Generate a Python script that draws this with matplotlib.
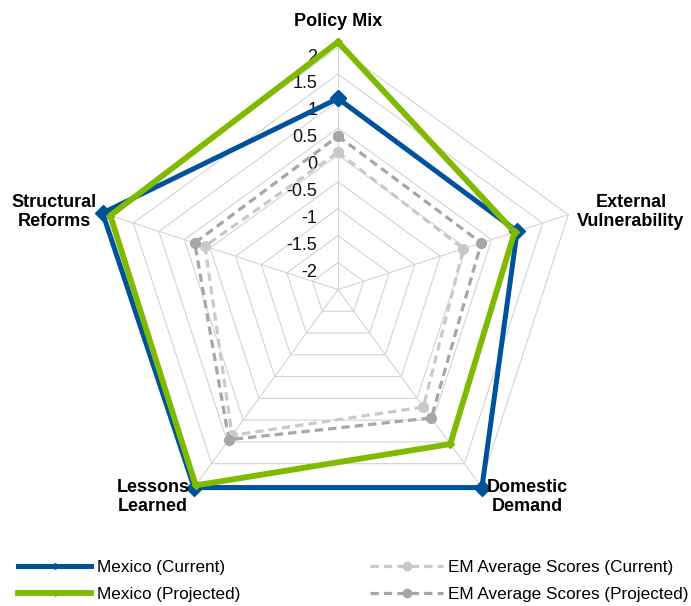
import matplotlib
matplotlib.use("Agg")
import matplotlib.pyplot as plt
from matplotlib.lines import Line2D
import numpy as np

plt.rcParams['font.family'] = ['Liberation Sans', 'DejaVu Sans']

# Scores per pillar, clockwise from the top
categories = ["Policy Mix", "External\nVulnerability", "Domestic\nDemand",
              "Lessons\nLearned", "Structural\nReforms"]
mexico_current = [1.05, 1.0, 2.05, 2.05, 2.1]
mexico_projected = [2.1, 0.95, 1.05, 2.0, 1.95]
em_current = [0.05, -0.05, 0.2, 0.85, 0.1]
em_projected = [0.35, 0.3, 0.45, 0.95, 0.3]

ring_levels = [-2, -1.5, -1, -0.5, 0, 0.5, 1, 1.5, 2]
tick_labels = ["-2", "-1.5", "-1", "-0.5", "0", "0.5", "1", "1.5", "2"]
r_min, r_max = -2.5, 2.2

BLUE = "#00529B"
GREEN = "#7FBA00"
LIGHT_GRAY = "#C9C9C9"
DARK_GRAY = "#A6A6A6"
GRID = "#D4D4D4"

W, H = 691, 606
fig = plt.figure(figsize=(W / 100, H / 100), dpi=100)

# polar axes centred on the web, radius sized for the -2.5..2.2 range
cx, cy, rad = 338, 289.5, 252.9
ax = fig.add_axes([(cx - rad) / W, (H - cy - rad) / H, 2 * rad / W, 2 * rad / H],
                  projection='polar')
ax.set_theta_offset(np.pi / 2)
ax.set_theta_direction(-1)
ax.set_ylim(r_min, r_max)
ax.grid(False)
ax.set_xticks([])
ax.set_yticks([])
ax.spines['polar'].set_visible(False)
ax.patch.set_alpha(0)

n = len(categories)
angles = np.linspace(0, 2 * np.pi, n, endpoint=False)
closed = np.append(angles, angles[0])


def close(vals):
    return np.append(vals, vals[0])


# pentagon rings and spokes
for lvl in ring_levels:
    ax.plot(closed, [lvl] * (n + 1), color=GRID, lw=0.8, zorder=1)
for a in angles:
    ax.plot([a, a], [r_min, ring_levels[-1]], color=GRID, lw=0.8, zorder=1)

# value labels along the top spoke
for lvl, lab in zip(ring_levels, tick_labels):
    ax.annotate(lab, xy=(0, lvl), xytext=(-15, -7), textcoords='offset points',
                ha='right', va='center', fontsize=13, color='#111111')

dash = (0, (2.6, 1.6))
ax.plot(closed, close(em_current), color=LIGHT_GRAY, lw=2.3, linestyle=dash,
        marker='o', markersize=7, zorder=3, clip_on=False)
ax.plot(closed, close(em_projected), color=DARK_GRAY, lw=2.3, linestyle=dash,
        marker='o', markersize=7, zorder=3, clip_on=False)
ax.plot(closed, close(mexico_current), color=BLUE, lw=3.6, marker='D',
        markersize=8, zorder=4, clip_on=False)
ax.plot(closed, close(mexico_projected), color=GREEN, lw=4.2, marker='D',
        markersize=4, zorder=5, clip_on=False)

# category labels around the web
label_pos = [(338, 22), (631, 212), (527, 497), (153, 497), (54, 212)]
for text, (px, py) in zip(categories, label_pos):
    fig.text(px / W, 1 - py / H, text, ha='center', va='center',
             fontsize=13, fontweight='bold', linespacing=1.15)

handles = [
    Line2D([], [], color=BLUE, lw=3.6, marker='D', markersize=3),
    Line2D([], [], color=GREEN, lw=4.2, marker='D', markersize=3),
    Line2D([], [], color=LIGHT_GRAY, lw=2.3, linestyle=dash, marker='o', markersize=6),
    Line2D([], [], color=DARK_GRAY, lw=2.3, linestyle=dash, marker='o', markersize=6),
]
labels = ["Mexico (Current)", "Mexico (Projected)",
          "EM Average Scores (Current)", "EM Average Scores (Projected)"]
fig.legend(handles, labels, ncol=2, loc='lower left',
           bbox_to_anchor=(18 / W, 4 / H), frameon=False, fontsize=12.3,
           handlelength=4.3, handletextpad=0.3, columnspacing=7.6,
           labelspacing=0.72, borderpad=0, borderaxespad=0, numpoints=1)

fig.savefig("out.png", dpi=100)
